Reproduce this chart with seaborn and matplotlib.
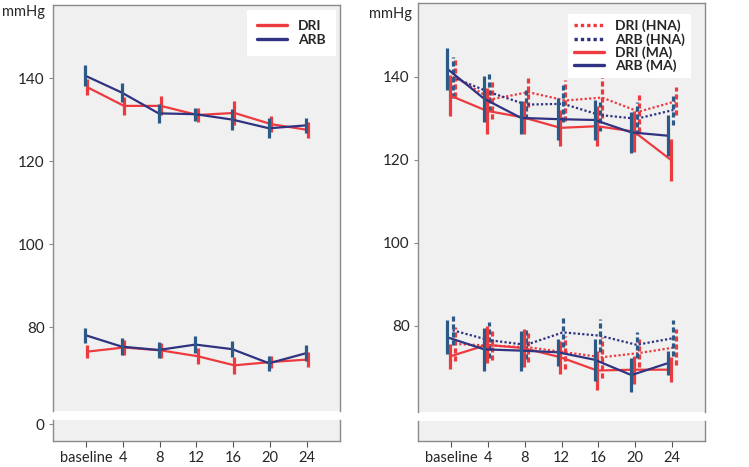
import numpy as np
import matplotlib
matplotlib.use('Agg')
import matplotlib.pyplot as plt
import seaborn as sns
from matplotlib.lines import Line2D

# Week labels
weeks = ['baseline', '4', '8', '12', '16', '20', '24']

# Left panel: whole population (mmHg)
sbp_dri = [137.8, 133.3, 133.3, 131.1, 131.6, 128.9, 127.5]
sbp_dri_err = [2.0, 2.1, 2.3, 1.8, 2.9, 1.9, 1.9]
sbp_arb = [140.6, 136.5, 131.5, 131.3, 130.0, 127.9, 128.6]
sbp_arb_err = [2.5, 2.3, 2.3, 1.6, 2.5, 2.4, 1.9]
dbp_dri = [74.1, 75.1, 74.4, 73.0, 70.8, 71.6, 72.2]
dbp_dri_err = [1.5, 1.7, 1.8, 1.9, 2.0, 1.5, 1.7]
dbp_arb = [78.1, 75.3, 74.5, 75.8, 74.7, 71.3, 73.7]
dbp_arb_err = [1.8, 2.1, 1.9, 2.0, 2.0, 1.8, 1.9]

# Right panel: HNA / MA subgroups (mmHg)
sbp_dri_hna = [140.0, 134.6, 136.3, 134.3, 135.0, 131.6, 134.1]
sbp_dri_hna_err = [4.9, 4.7, 3.5, 5.0, 5.0, 4.8, 3.4]
sbp_arb_hna = [139.9, 136.3, 133.3, 133.5, 130.8, 129.9, 132.0]
sbp_arb_hna_err = [5.0, 4.6, 3.5, 4.5, 3.9, 4.0, 3.5]
sbp_dri_ma = [135.5, 131.8, 130.2, 127.7, 128.1, 126.8, 120.0]
sbp_dri_ma_err = [4.9, 5.6, 4.0, 4.3, 4.8, 5.0, 5.0]
sbp_arb_ma = [141.9, 134.7, 130.1, 129.8, 129.6, 126.6, 125.8]
sbp_arb_ma_err = [5.1, 5.6, 4.0, 5.0, 4.9, 4.9, 5.0]
dbp_dri_hna = [75.6, 75.2, 74.8, 73.6, 72.4, 73.4, 74.8]
dbp_dri_hna_err = [4.0, 3.5, 3.5, 4.0, 5.0, 3.4, 4.3]
dbp_arb_hna = [78.9, 76.5, 75.4, 78.4, 77.6, 75.4, 77.0]
dbp_arb_hna_err = [3.5, 4.3, 3.5, 3.5, 4.0, 3.1, 4.3]
dbp_dri_ma = [72.6, 75.4, 74.6, 72.4, 69.2, 69.4, 69.4]
dbp_dri_ma_err = [3.0, 4.5, 4.5, 4.0, 4.8, 3.4, 3.0]
dbp_arb_ma = [77.2, 74.3, 74.0, 73.6, 71.8, 68.1, 71.0]
dbp_arb_ma_err = [4.1, 5.2, 4.8, 3.3, 5.1, 4.0, 3.0]

# Colours
red = '#ec3a3f'
navy = '#2f3381'
bar_blue = '#2c5a86'
bg = '#f0f0f0'
spine_col = '#8a8a8a'

sns.set_style('white')
plt.rcParams['font.family'] = ['Lato', 'DejaVu Sans']

W, H = 749, 467
fig = plt.figure(figsize=(W / 100, H / 100), dpi=100, facecolor='w')


def px_axes(x0, x1, y0, y1):
    return fig.add_axes([x0 / W, 1 - y1 / H, (x1 - x0) / W, (y1 - y0) / H])


def draw_series(ax, vals, errs, off, color, bar_color, dotted=False):
    pos = np.arange(len(weeks)) + off
    sns.lineplot(x=pos, y=vals, ax=ax, color=color, lw=1.6, sort=False, errorbar=None,
                 linestyle=(0, (1, 1.0)) if dotted else '-')
    eb = ax.errorbar(pos, vals, yerr=errs, fmt='none', ecolor=bar_color, elinewidth=2.3, capsize=0)
    if dotted:
        eb[2][0].set_linestyle((0, (1.6, 0.9)))


def style_top(ax, yl, ticks):
    ax.set_facecolor(bg)
    ax.set_xlim(-0.9, 6.9)
    ax.set_ylim(*yl)
    ax.set_yticks(ticks)
    ax.set_xticks([])
    ax.spines['bottom'].set_visible(False)
    for s in ['top', 'left', 'right']:
        ax.spines[s].set_color(spine_col)
        ax.spines[s].set_linewidth(1.0)
    ax.tick_params(axis='y', direction='out', length=3, color=spine_col, labelsize=11, pad=3, left=True)
    ax.set_xlabel('')
    ax.set_ylabel('')


def style_bottom(ax, show_zero):
    ax.set_facecolor(bg)
    ax.set_xlim(-0.9, 6.9)
    ax.set_ylim(-4, 1)
    ax.set_xticks(np.arange(len(weeks)))
    ax.set_xticklabels(weeks)
    if show_zero:
        ax.set_yticks([0])
    else:
        ax.set_yticks([])
    ax.spines['top'].set_visible(False)
    for s in ['bottom', 'left', 'right']:
        ax.spines[s].set_color(spine_col)
        ax.spines[s].set_linewidth(1.0)
    ax.tick_params(axis='x', direction='out', length=4, color='#555555', labelsize=10.5, pad=3, bottom=True)
    ax.tick_params(axis='y', direction='out', length=3, color=spine_col, labelsize=11, pad=3, left=True)


# Left panel
ax_lt = px_axes(53, 340, 5, 411)
ax_lb = px_axes(53, 340, 420, 441)
draw_series(ax_lt, sbp_dri, sbp_dri_err, 0.03, red, red)
draw_series(ax_lt, sbp_arb, sbp_arb_err, -0.03, navy, bar_blue)
draw_series(ax_lt, dbp_dri, dbp_dri_err, 0.03, red, red)
draw_series(ax_lt, dbp_arb, dbp_arb_err, -0.03, navy, bar_blue)
style_top(ax_lt, (59.8, 157.6), [80, 100, 120, 140])
style_bottom(ax_lb, True)
handles = [Line2D([], [], color=red, lw=2.4), Line2D([], [], color=navy, lw=2.4)]
ax_lt.legend(handles, ['DRI', 'ARB'], loc='upper right', bbox_to_anchor=(0.995, 0.995),
             frameon=True, facecolor='white', edgecolor='none', fancybox=False, framealpha=1,
             prop={'weight': 'bold', 'size': 10}, handlelength=2.2, borderpad=0.7,
             labelspacing=0.2, borderaxespad=0.2)

# Right panel
ax_rt = px_axes(418, 705, 3, 412)
ax_rb = px_axes(418, 705, 421, 441)
offs = [0.1, 0.04, -0.03, -0.1]
draw_series(ax_rt, sbp_dri_hna, sbp_dri_hna_err, offs[0], red, red, dotted=True)
draw_series(ax_rt, sbp_arb_hna, sbp_arb_hna_err, offs[1], navy, bar_blue, dotted=True)
draw_series(ax_rt, sbp_dri_ma, sbp_dri_ma_err, offs[2], red, red)
draw_series(ax_rt, sbp_arb_ma, sbp_arb_ma_err, offs[3], navy, bar_blue)
draw_series(ax_rt, dbp_dri_hna, dbp_dri_hna_err, offs[0], red, red, dotted=True)
draw_series(ax_rt, dbp_arb_hna, dbp_arb_hna_err, offs[1], navy, bar_blue, dotted=True)
draw_series(ax_rt, dbp_dri_ma, dbp_dri_ma_err, offs[2], red, red)
draw_series(ax_rt, dbp_arb_ma, dbp_arb_ma_err, offs[3], navy, bar_blue)
style_top(ax_rt, (59.2, 157.8), [80, 100, 120, 140])
style_bottom(ax_rb, False)
handles = [Line2D([], [], color=red, lw=2.4, linestyle=(0, (1, 0.9))),
           Line2D([], [], color=navy, lw=2.4, linestyle=(0, (1, 0.9))),
           Line2D([], [], color=red, lw=2.4),
           Line2D([], [], color=navy, lw=2.4)]
ax_rt.legend(handles, ['DRI (HNA)', 'ARB (HNA)', 'DRI (MA)', 'ARB (MA)'], loc='upper right',
             bbox_to_anchor=(0.975, 0.99), frameon=True, facecolor='white', edgecolor='none',
             fancybox=False, framealpha=1, prop={'weight': 'bold', 'size': 10},
             handlelength=2.2, borderpad=0.4, labelspacing=0.05)

fig.text(2 / W, 1 - 12 / H, 'mmHg', fontsize=10.5, va='center', ha='left')
fig.text(369 / W, 1 - 14 / H, 'mmHg', fontsize=10.5, va='center', ha='left')

plt.savefig('out.png', dpi=100, facecolor='w')
